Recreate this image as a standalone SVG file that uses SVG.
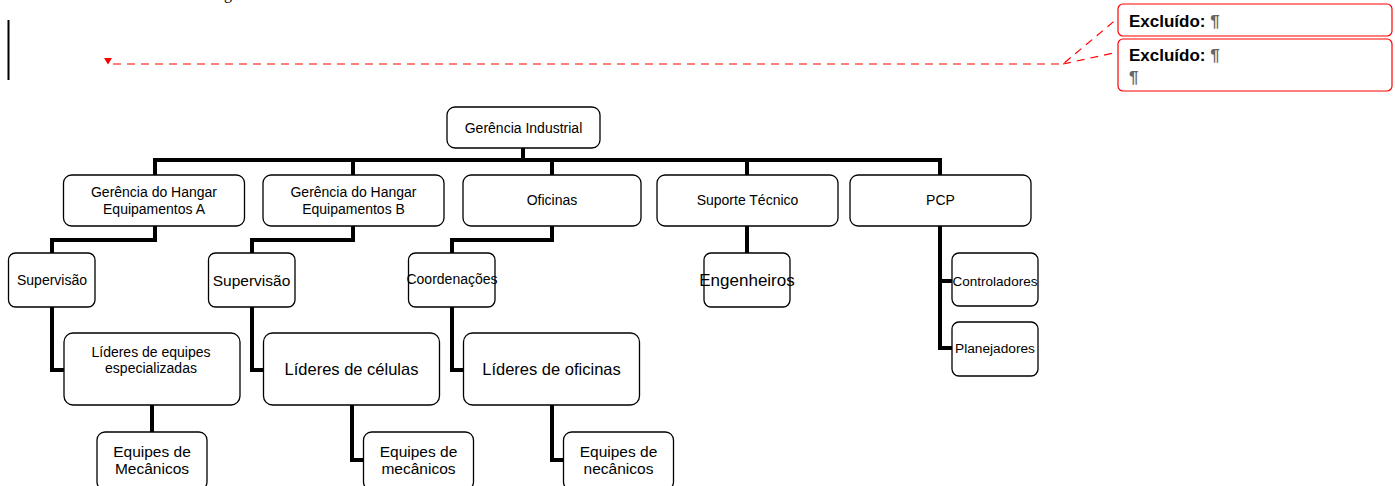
<svg xmlns="http://www.w3.org/2000/svg" width="1395" height="486" viewBox="0 0 1395 486">
<style>
.box{fill:#fff;stroke:#000;stroke-width:1.3}
.conn{fill:none;stroke:#000;stroke-width:4;stroke-linejoin:miter;stroke-linecap:square}
.t{font-family:"Liberation Sans",Arial,sans-serif;fill:#000;text-anchor:middle}
.red{fill:#fff;stroke:#f00;stroke-width:1.2}
.rdash{fill:none;stroke:#f00;stroke-width:1.2;stroke-dasharray:8 6}
.ex{font-family:"Liberation Sans",Arial,sans-serif;font-weight:bold;font-size:17px;fill:#000}
.pil{fill:#666}
</style>
<text x="224" y="-1" font-family="Liberation Serif, serif" font-size="16">g</text>
<rect x="7.5" y="20" width="2" height="60" fill="#000"/>
<g id="revision">
<polygon points="104,58 112,58 108,64.5" fill="#f00"/>
<path class="rdash" d="M113,64 H1063 L1118,18 M1063,64 L1118,52"/>
<rect class="red" x="1118" y="4" width="274" height="32" rx="5"/>
<text class="ex" x="1129" y="27">Excluído: <tspan class="pil">¶</tspan></text>
<rect class="red" x="1118" y="39" width="274" height="52" rx="5"/>
<text class="ex" x="1129" y="61">Excluído: <tspan class="pil">¶</tspan></text>
<text class="ex pil" x="1129" y="83">¶</text>
</g>
<g id="connectors">
<path class="conn" d="M523,148 V160"/>
<path class="conn" d="M155,175 V160 H940 V175"/>
<path class="conn" d="M353,160 V175 M552,160 V175 M747,160 V175"/>
<path class="conn" d="M155,226 V240 H52 V253 M52,307 V370 H64"/>
<path class="conn" d="M152,405 V432"/>
<path class="conn" d="M353,226 V240 H252 V253 M252,307 V370 H263"/>
<path class="conn" d="M352,405 V460 H363"/>
<path class="conn" d="M552,226 V240 H452 V253 M452,307 V370 H463"/>
<path class="conn" d="M552,405 V460 H563"/>
<path class="conn" d="M747,226 V253"/>
<path class="conn" d="M940,226 V348 H952 M940,281 H952"/>
</g>
<g id="n-gerencia-industrial"><rect class="box" x="447" y="107" width="153" height="41" rx="8"/><text class="t" x="523.5" y="132.5" font-size="14">Gerência Industrial</text></g>
<g id="n-hangar-a"><rect class="box" x="63.5" y="175" width="181" height="51" rx="8"/><text class="t" x="154" y="197" font-size="14">Gerência do Hangar</text><text class="t" x="154" y="214" font-size="14">Equipamentos A</text></g>
<g id="n-hangar-b"><rect class="box" x="263" y="175" width="181" height="51" rx="8"/><text class="t" x="353.5" y="197" font-size="14">Gerência do Hangar</text><text class="t" x="353.5" y="214" font-size="14">Equipamentos B</text></g>
<g id="n-oficinas"><rect class="box" x="463" y="175" width="178" height="51" rx="8"/><text class="t" x="552" y="205" font-size="14">Oficinas</text></g>
<g id="n-suporte"><rect class="box" x="657" y="175" width="181" height="51" rx="8"/><text class="t" x="747.5" y="205" font-size="14">Suporte Técnico</text></g>
<g id="n-pcp"><rect class="box" x="850" y="175" width="181" height="51" rx="8"/><text class="t" x="940.5" y="205" font-size="14">PCP</text></g>
<g id="n-supervisao-a"><rect class="box" x="8.5" y="253" width="86.5" height="54" rx="7"/><text class="t" x="52" y="285" font-size="14">Supervisão</text></g>
<g id="n-supervisao-b"><rect class="box" x="208.5" y="253" width="86.5" height="54" rx="7"/><text class="t" x="251.5" y="286" font-size="15.5">Supervisão</text></g>
<g id="n-coordenacoes"><rect class="box" x="408.5" y="253" width="86.5" height="54" rx="7"/><text class="t" x="452" y="284" font-size="14">Coordenações</text></g>
<g id="n-engenheiros"><rect class="box" x="704" y="253" width="86" height="54" rx="7"/><text class="t" x="747" y="286" font-size="17">Engenheiros</text></g>
<g id="n-controladores"><rect class="box" x="952" y="253" width="86" height="53" rx="7"/><text class="t" x="995" y="286" font-size="13.5">Controladores</text></g>
<g id="n-planejadores"><rect class="box" x="952" y="322" width="86" height="54" rx="7"/><text class="t" x="995" y="353" font-size="13.7">Planejadores</text></g>
<g id="n-lideres-equipes"><rect class="box" x="64" y="333" width="176" height="72" rx="9"/><text class="t" x="151" y="357" font-size="14">Líderes de equipes</text><text class="t" x="151" y="373" font-size="14">especializadas</text></g>
<g id="n-lideres-celulas"><rect class="box" x="263.5" y="333" width="176" height="72" rx="9"/><text class="t" x="351.5" y="375" font-size="16.5">Líderes de células</text></g>
<g id="n-lideres-oficinas"><rect class="box" x="463.5" y="333" width="176" height="72" rx="9"/><text class="t" x="551.5" y="375" font-size="16.5">Líderes de oficinas</text></g>
<g id="n-equipes-a"><rect class="box" x="97" y="432" width="110" height="58" rx="8"/><text class="t" x="152" y="457" font-size="15.5">Equipes de</text><text class="t" x="152" y="474" font-size="15.5">Mecânicos</text></g>
<g id="n-equipes-b"><rect class="box" x="363.5" y="432" width="110" height="58" rx="8"/><text class="t" x="418.5" y="457" font-size="15.5">Equipes de</text><text class="t" x="418.5" y="474" font-size="15.5">mecânicos</text></g>
<g id="n-equipes-c"><rect class="box" x="563.5" y="432" width="110" height="58" rx="8"/><text class="t" x="618.5" y="457" font-size="15.5">Equipes de</text><text class="t" x="618.5" y="474" font-size="15.5">necânicos</text></g>
</svg>
